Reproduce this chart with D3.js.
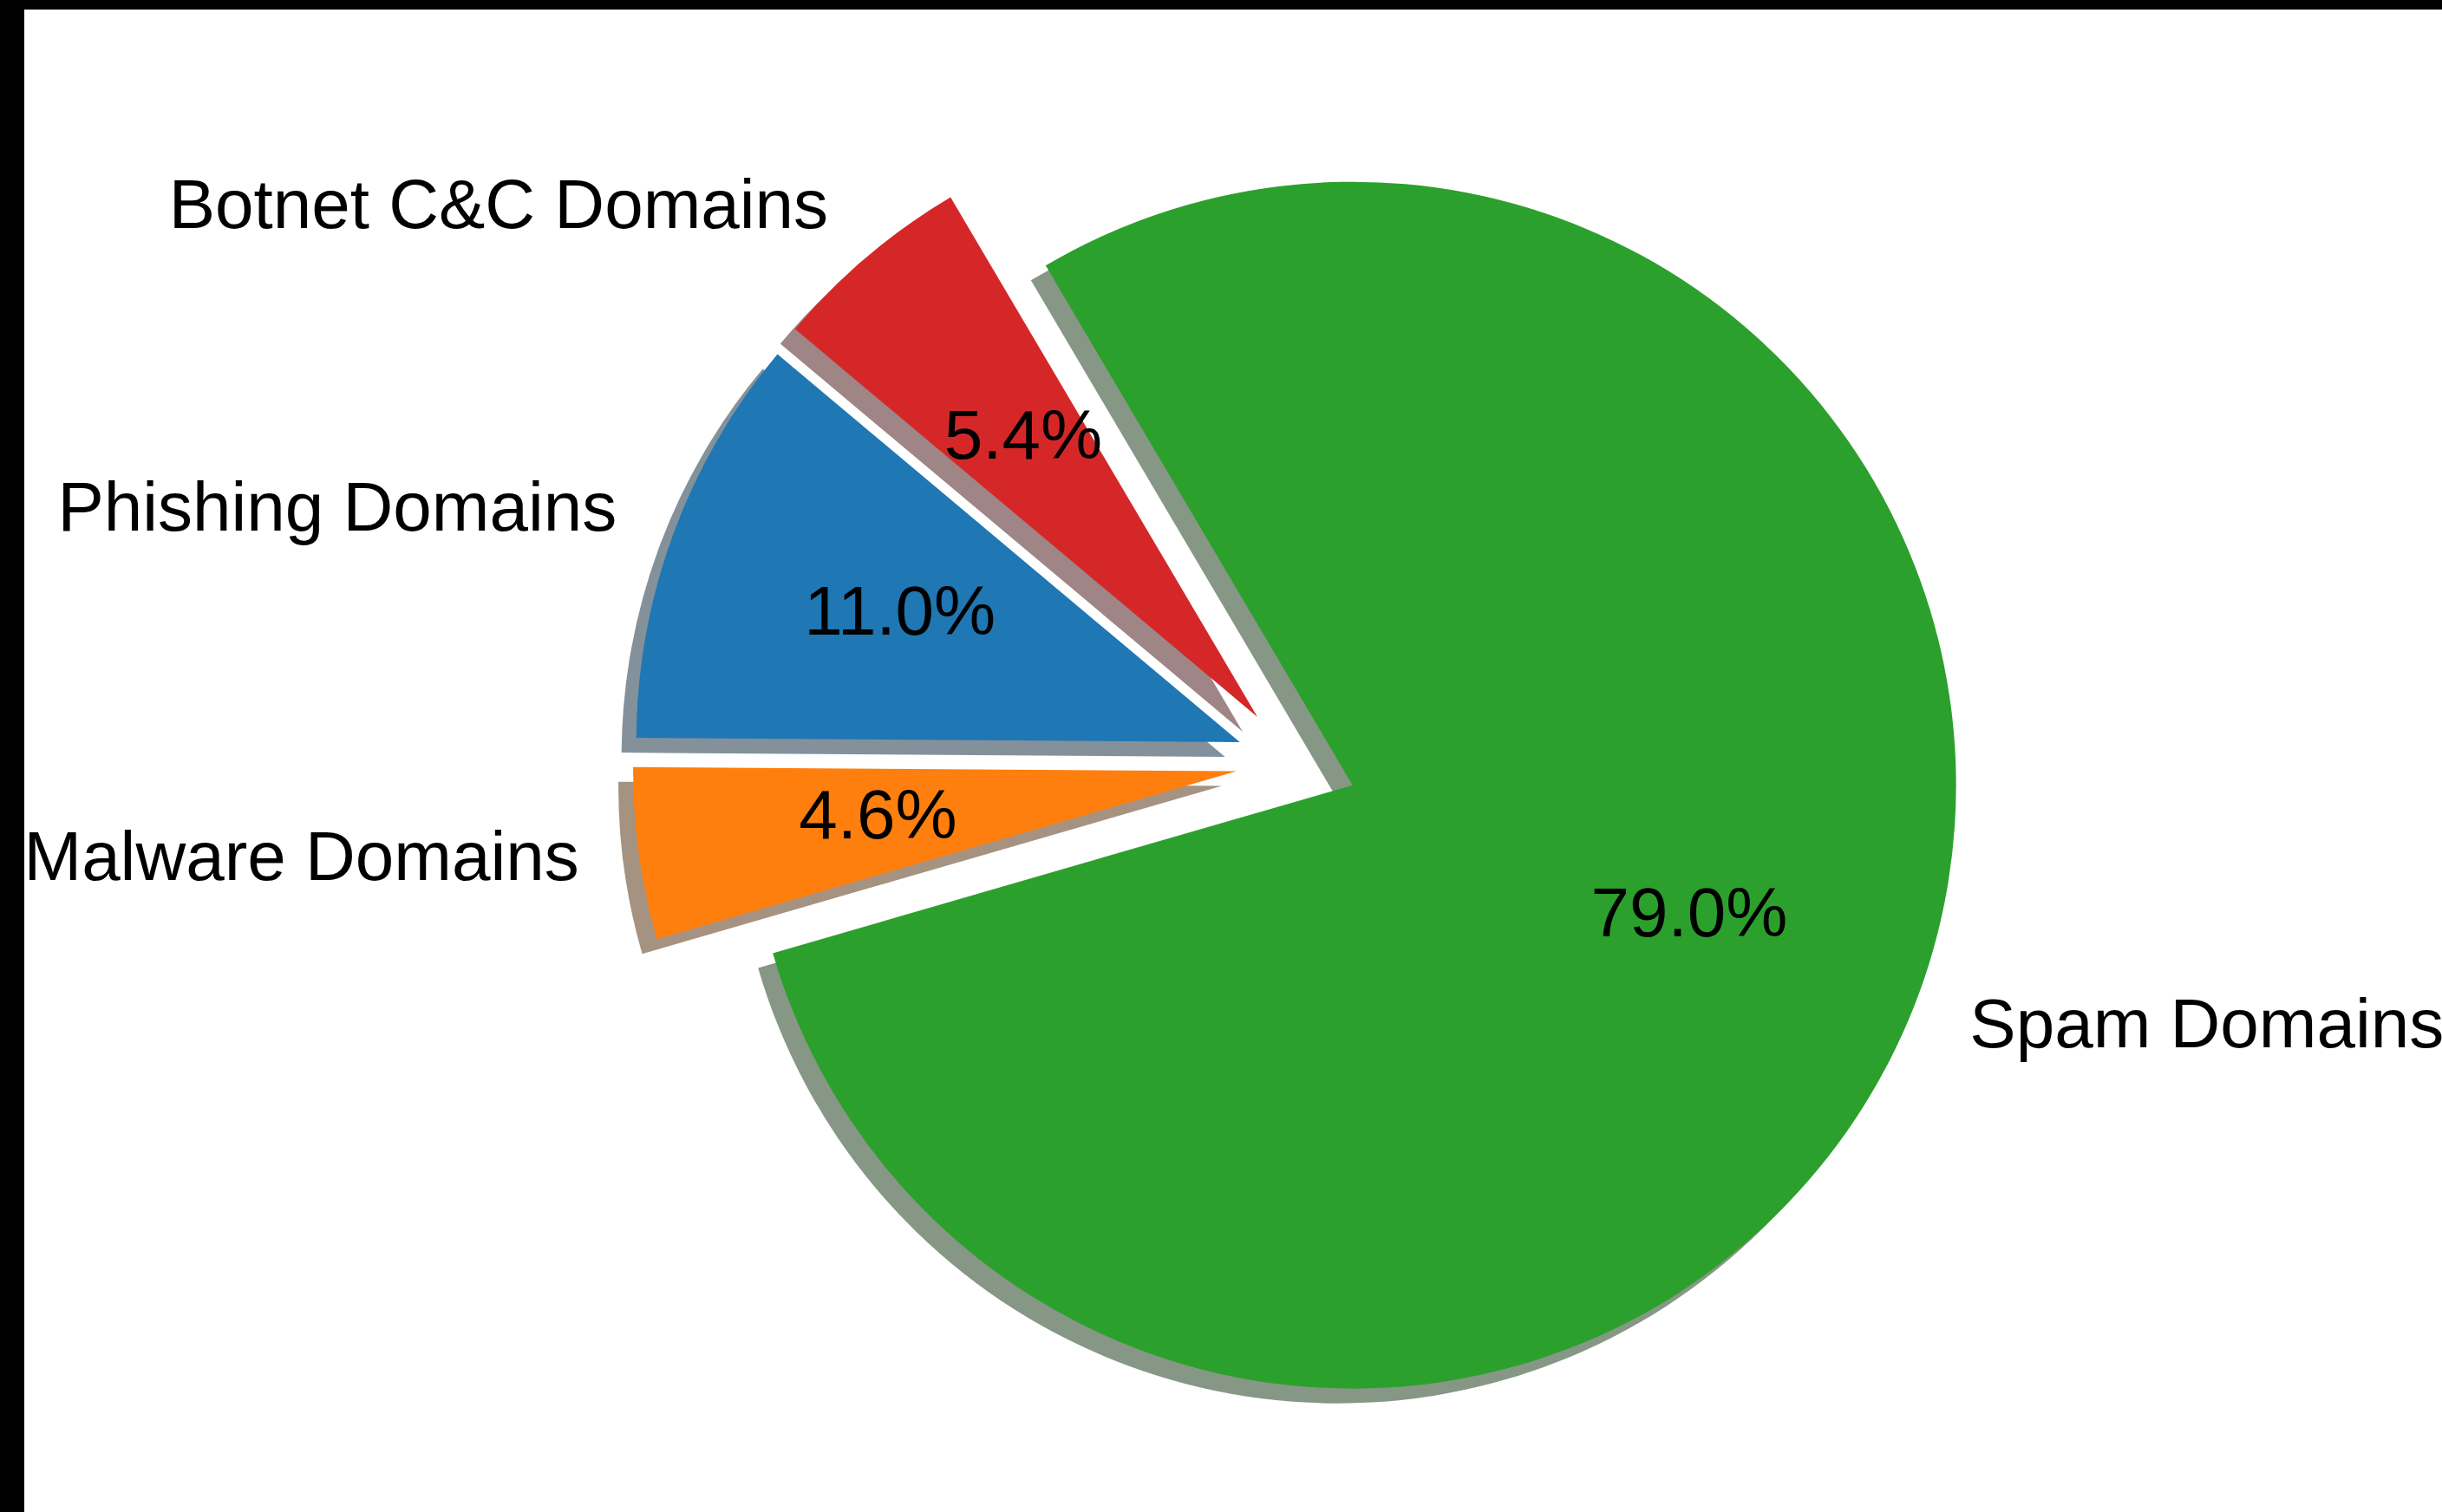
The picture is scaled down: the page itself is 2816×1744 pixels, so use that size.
<!DOCTYPE html>
<html>
<head>
<meta charset="utf-8">
<script src="https://cdn.jsdelivr.net/npm/d3@7"></script>
<style>
  html, body { margin: 0; padding: 0; background: #ffffff; }
  svg { display: block; }
  text { font-family: "Liberation Sans", Arial, Helvetica, sans-serif; fill: #000; }
</style>
</head>
<body>
<script>
// Domain categories and their share of flagged domains (percent)
const categories = ["Phishing Domains", "Malware Domains", "Spam Domains", "Botnet C&C Domains"];
const shares = [11.0, 4.6, 79.0, 5.4];
const colors = ["#1f77b4", "#ff7f0e", "#2ca02c", "#d62728"];
const explodes = [0.1, 0.1, 0.1, 0.1];

const W = 2816, H = 1744;
const cx = 1495, cy = 880, R = 696;
const shadowDx = -17, shadowDy = 17;
const fontSize = 80;
const startDeg = 140; // counter-clockwise from 3 o'clock

const svg = d3.select("body").append("svg")
  .attr("width", W).attr("height", H);

svg.append("rect").attr("width", W).attr("height", H).attr("fill", "#ffffff");

const data = categories.map((c, i) => ({ name: c, value: shares[i], color: colors[i], explode: explodes[i] }));
const total = d3.sum(shares);

// d3 angles: 0 at 12 o'clock, clockwise. Slices run counter-clockwise from startDeg.
const toRad = d => d * Math.PI / 180;
const a0 = toRad(90 - startDeg);
const pie = d3.pie().sort(null).value(d => d.value)
  .startAngle(a0).endAngle(a0 - 2 * Math.PI);
const arcs = pie(data);
const arc = d3.arc().innerRadius(0).outerRadius(R);

const g = svg.append("g").attr("transform", `translate(${cx},${cy})`);

function offsetOf(d, dist) {
  const m = (d.startAngle + d.endAngle) / 2;
  return [Math.sin(m) * dist, -Math.cos(m) * dist];
}

function shade(c) {
  const rgb = d3.rgb(c);
  return d3.rgb(rgb.r * 0.3, rgb.g * 0.3, rgb.b * 0.3).formatHex();
}

// Shadows first, underneath every wedge
g.selectAll("path.shadow").data(arcs).join("path")
  .attr("class", "shadow")
  .attr("d", arc)
  .attr("fill", d => shade(d.data.color))
  .attr("fill-opacity", 0.5)
  .attr("transform", d => {
    const [ox, oy] = offsetOf(d, d.data.explode * R);
    return `translate(${ox + shadowDx},${oy + shadowDy})`;
  });

// Wedges
g.selectAll("path.wedge").data(arcs).join("path")
  .attr("class", "wedge")
  .attr("d", arc)
  .attr("fill", d => d.data.color)
  .attr("transform", d => {
    const [ox, oy] = offsetOf(d, d.data.explode * R);
    return `translate(${ox},${oy})`;
  });

const baselineShift = 0.253 * fontSize;

// Category labels outside the pie
g.selectAll("text.label").data(arcs).join("text")
  .attr("class", "label")
  .attr("font-size", fontSize)
  .each(function(d) {
    const [x, y] = offsetOf(d, (d.data.explode + 1.1) * R);
    d3.select(this)
      .attr("x", x)
      .attr("y", y + baselineShift)
      .attr("text-anchor", x > 0 ? "start" : "end")
      .text(d.data.name);
  });

// Percentage labels inside the wedges
const fmt = d3.format(".1f");
g.selectAll("text.pct").data(arcs).join("text")
  .attr("class", "pct")
  .attr("font-size", fontSize)
  .attr("text-anchor", "middle")
  .each(function(d) {
    const [x, y] = offsetOf(d, (d.data.explode + 0.6) * R);
    d3.select(this)
      .attr("x", x)
      .attr("y", y + baselineShift)
      .text(fmt(d.data.value / total * 100) + "%");
  });

// Frame edges along the top and left
svg.append("rect").attr("x", 0).attr("y", 0).attr("width", W).attr("height", 11).attr("fill", "#000");
svg.append("rect").attr("x", 0).attr("y", 0).attr("width", 28).attr("height", H).attr("fill", "#000");
</script>
</body>
</html>
